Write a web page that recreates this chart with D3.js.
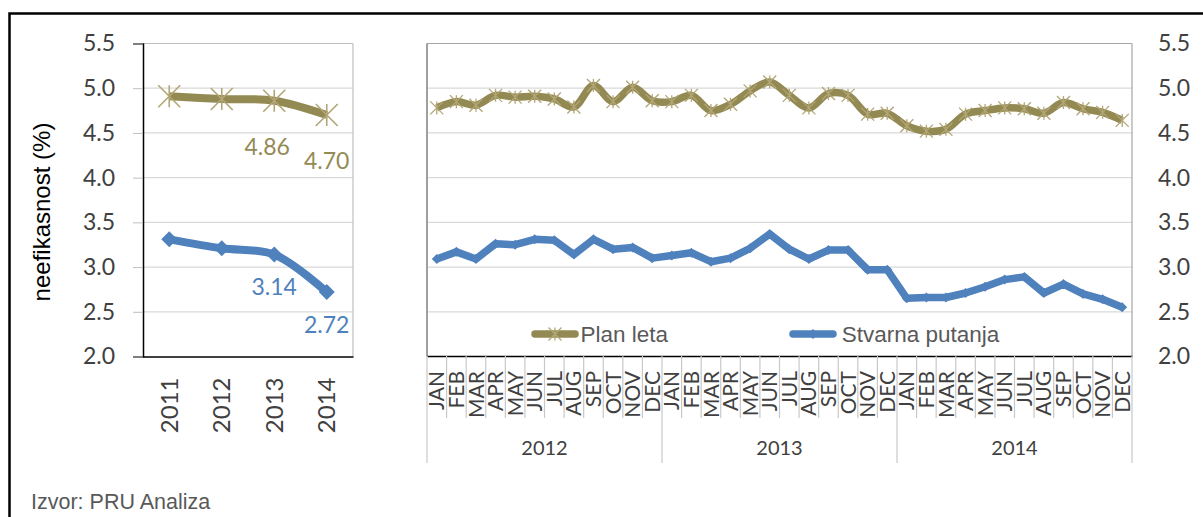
<!DOCTYPE html>
<html lang="hr">
<head>
<meta charset="utf-8">
<title>Neefikasnost</title>
<script src="https://d3js.org/d3.v7.min.js"></script>
<style>
  body { margin: 0; background: #fff; }
  .tick text { font-family: Lato, sans-serif; fill: #404040; }
  .arial { font-family: "Liberation Sans", Arial, sans-serif; }
</style>
</head>
<body>
<div id="main"></div>
<script>
// ---- data ----
var years = ["2011", "2012", "2013", "2014"];
var planYear = [4.91, 4.88, 4.86, 4.70];
var actualYear = [3.31, 3.21, 3.14, 2.72];
var labelIdx = [2, 3]; // years with a value label

var monthNames = ["JAN", "FEB", "MAR", "APR", "MAY", "JUN", "JUL", "AUG", "SEP", "OCT", "NOV", "DEC"];
var monthYears = ["2012", "2013", "2014"];
var planMonth = [4.78, 4.85, 4.81, 4.92, 4.90, 4.91, 4.88, 4.79, 5.03, 4.85, 5.01, 4.86,
                 4.85, 4.92, 4.75, 4.82, 4.97, 5.07, 4.92, 4.78, 4.94, 4.92, 4.71, 4.72,
                 4.58, 4.52, 4.54, 4.71, 4.75, 4.78, 4.77, 4.72, 4.84, 4.77, 4.73, 4.64];
var actualMonth = [3.09, 3.17, 3.09, 3.26, 3.25, 3.31, 3.30, 3.14, 3.31, 3.20, 3.22, 3.10,
                   3.13, 3.16, 3.06, 3.10, 3.21, 3.37, 3.20, 3.09, 3.19, 3.19, 2.97, 2.97,
                   2.65, 2.66, 2.66, 2.71, 2.78, 2.86, 2.89, 2.71, 2.81, 2.70, 2.64, 2.55];
var yTicks = [2.0, 2.5, 3.0, 3.5, 4.0, 4.5, 5.0, 5.5];
var seriesNames = ["Plan leta", "Stvarna putanja"];

var olive = "#938953", oliveMark = "#b2a675", blue = "#4f81bd";

var width = 1203, height = 517;
var svg = d3.select("#main").append("svg").attr("width", width).attr("height", height);

// outer frame (cut off at right and bottom)
svg.append("rect").attr("x", 9.5).attr("y", 13.5).attr("width", 1300).attr("height", 600)
   .attr("fill", "none").attr("stroke", "#000").attr("stroke-width", 2.5);

var y = d3.scaleLinear().domain([2, 5.5]).range([356.5, 43.5]);
var xL = d3.scaleBand().domain(years).range([143, 353]);
var xR = d3.scaleBand().domain(d3.range(36)).range([427, 1132]);

function star(s) { return "M" + (-s) + "," + (-s) + "L" + s + "," + s + "M" + (-s) + "," + s + "L" + s + "," + (-s) + "M0," + (-s) + "L0," + s; }
function diamond(s) { return "M0," + (-s) + "L" + s + ",0L0," + s + "L" + (-s) + ",0Z"; }

// ---- left panel ----
var gl = svg.append("g");
gl.selectAll("line.grid").data(yTicks.slice(1)).enter().append("line")
  .attr("x1", 143).attr("x2", 353).attr("y1", d => y(d)).attr("y2", d => y(d))
  .attr("stroke", d => d === 5.5 ? "#bfbfbf" : "#d9d9d9").attr("stroke-width", 1.2);
gl.append("line").attr("x1", 353).attr("x2", 353).attr("y1", y(5.5)).attr("y2", y(2))
  .attr("stroke", "#bfbfbf").attr("stroke-width", 1.2);

var axL = gl.append("g").attr("transform", "translate(143,0)")
  .call(d3.axisLeft(y).tickValues(yTicks).tickSize(10).tickPadding(18).tickFormat(d3.format(".1f")));
axL.select(".domain").attr("stroke", "#000").attr("stroke-width", 1.5);
axL.selectAll(".tick line").attr("stroke", "#bfbfbf");
axL.selectAll(".tick text").style("font-size", "23px");

var axLB = gl.append("g").attr("transform", "translate(0,356.5)")
  .call(d3.axisBottom(xL).tickSize(0));
axLB.select(".domain").attr("stroke", "#000").attr("stroke-width", 1.5);
axLB.selectAll(".tick text").style("font-size", "24px")
  .attr("transform", "rotate(-90)").attr("text-anchor", "end")
  .attr("x", -21).attr("y", 0).attr("dy", "0.36em");

var cxL = d => xL(d) + xL.bandwidth() / 2;
var smooth = d3.line().curve(d3.curveCatmullRom.alpha(0.5));

var planL = years.map((d, i) => [cxL(d), y(planYear[i])]);
var actL = years.map((d, i) => [cxL(d), y(actualYear[i])]);
gl.append("path").attr("d", smooth(planL)).attr("fill", "none").attr("stroke", olive)
  .attr("stroke-width", 8).attr("stroke-linejoin", "round");
gl.append("path").attr("d", smooth(actL)).attr("fill", "none").attr("stroke", blue)
  .attr("stroke-width", 8).attr("stroke-linejoin", "round");
gl.selectAll("path.star").data(planL).enter().append("path")
  .attr("transform", d => "translate(" + d + ")").attr("d", star(11))
  .attr("stroke", oliveMark).attr("stroke-width", 1.6).attr("fill", "none");
gl.selectAll("path.dia").data(actL).enter().append("path")
  .attr("transform", d => "translate(" + d + ")").attr("d", diamond(8)).attr("fill", blue);

var planLabDx = [0, 0, -7, 0], planLabDy = 54, actLabDy = 40.5;
gl.selectAll("text.lp").data(labelIdx).enter().append("text")
  .attr("x", i => cxL(years[i]) + planLabDx[i]).attr("y", i => y(planYear[i]) + planLabDy)
  .attr("text-anchor", "middle").style("font-family", "Lato, sans-serif").style("font-size", "23px")
  .attr("fill", "#948a54").text(i => planYear[i].toFixed(2));
gl.selectAll("text.la").data(labelIdx).enter().append("text")
  .attr("x", i => cxL(years[i])).attr("y", i => y(actualYear[i]) + actLabDy)
  .attr("text-anchor", "middle").style("font-family", "Lato, sans-serif").style("font-size", "23px")
  .attr("fill", blue).text(i => actualYear[i].toFixed(2));

svg.append("text").attr("class", "arial")
  .attr("transform", "translate(42,212) rotate(-90)").attr("text-anchor", "middle")
  .attr("dy", "0.35em").style("font-size", "24px").attr("fill", "#000")
  .text("neefikasnost (%)");

// ---- right panel ----
var gr = svg.append("g");
gr.selectAll("line.grid").data(yTicks.slice(1)).enter().append("line")
  .attr("x1", 427).attr("x2", 1132).attr("y1", d => y(d)).attr("y2", d => y(d))
  .attr("stroke", d => d === 5.5 ? "#a6a6a6" : "#d9d9d9").attr("stroke-width", 1.2);
gr.append("line").attr("x1", 427).attr("x2", 427).attr("y1", y(5.5)).attr("y2", y(2))
  .attr("stroke", "#808080").attr("stroke-width", 1.5);
gr.append("line").attr("x1", 1132).attr("x2", 1132).attr("y1", y(5.5)).attr("y2", y(2))
  .attr("stroke", "#a6a6a6").attr("stroke-width", 1.2);

var axR = gr.append("g").attr("transform", "translate(1132,0)")
  .call(d3.axisRight(y).tickValues(yTicks).tickSize(0).tickPadding(26).tickFormat(d3.format(".1f")));
axR.select(".domain").remove();
axR.selectAll(".tick text").style("font-size", "23px");

var axM = gr.append("g").attr("transform", "translate(0,356)")
  .call(d3.axisBottom(xR).tickSize(0).tickFormat(i => monthNames[i % 12]));
axM.select(".domain").attr("stroke", "#000").attr("stroke-width", 1.5);
axM.selectAll(".tick text").style("font-size", "21px")
  .attr("transform", "rotate(-90)").attr("text-anchor", "end")
  .attr("x", -15).attr("y", 0).attr("dy", "0.36em");

// month separators and year separators
gr.selectAll("line.msep").data(d3.range(1, 36).filter(i => i % 12 !== 0)).enter().append("line")
  .attr("x1", i => xR(i)).attr("x2", i => xR(i)).attr("y1", 356).attr("y2", 418)
  .attr("stroke", "#c8c8c8").attr("stroke-width", 1.2);
gr.selectAll("line.ysep").data([0, 12, 24, 36]).enter().append("line")
  .attr("x1", i => i === 36 ? 1132 : xR(i)).attr("x2", i => i === 36 ? 1132 : xR(i))
  .attr("y1", 356).attr("y2", 463)
  .attr("stroke", "#c8c8c8").attr("stroke-width", 1.2);
gr.selectAll("text.yr").data(monthYears).enter().append("text")
  .attr("x", (d, k) => (xR(k * 12) + (k === 2 ? 1132 : xR(k * 12 + 12))) / 2).attr("y", 455)
  .attr("text-anchor", "middle").style("font-family", "Lato, sans-serif").style("font-size", "20px")
  .attr("fill", "#404040").text(d => d);

var cxR = i => xR(i) + xR.bandwidth() / 2;
var planR = planMonth.map((v, i) => [cxR(i), y(v)]);
var actR = actualMonth.map((v, i) => [cxR(i), y(v)]);
gr.append("path").attr("d", smooth(planR)).attr("fill", "none").attr("stroke", olive)
  .attr("stroke-width", 7.5).attr("stroke-linejoin", "round");
gr.append("path").attr("d", d3.line()(actR)).attr("fill", "none").attr("stroke", blue)
  .attr("stroke-width", 7.5).attr("stroke-linejoin", "round");
gr.selectAll("path.star").data(planR).enter().append("path")
  .attr("transform", d => "translate(" + d + ")").attr("d", star(6.5))
  .attr("stroke", oliveMark).attr("stroke-width", 1.3).attr("fill", "none");
gr.selectAll("path.dia").data(actR).enter().append("path")
  .attr("transform", d => "translate(" + d + ")").attr("d", diamond(5)).attr("fill", blue);

// legend
var legX = [535, 793], legY = 334;
var leg = gr.selectAll("g.leg").data(seriesNames).enter().append("g")
  .attr("transform", (d, i) => "translate(" + legX[i] + "," + legY + ")");
leg.append("line").attr("x1", 0).attr("x2", 40).attr("stroke", (d, i) => i ? blue : olive)
  .attr("stroke-width", 7.5).attr("stroke-linecap", "round");
leg.append("path").attr("transform", "translate(20,0)")
  .attr("d", (d, i) => i ? diamond(5) : star(6.5))
  .attr("fill", (d, i) => i ? blue : "none").attr("stroke", (d, i) => i ? "none" : oliveMark)
  .attr("stroke-width", 1.3);
leg.append("text").attr("class", "arial").attr("x", (d, i) => i ? 48.7 : 45.5).attr("dy", "0.36em")
  .style("font-size", "22.5px").attr("fill", "#595959").text(d => d);

svg.append("text").attr("class", "arial").attr("x", 31).attr("y", 509)
  .style("font-size", "21.5px").attr("fill", "#595959").text("Izvor: PRU Analiza");
</script>
</body>
</html>
